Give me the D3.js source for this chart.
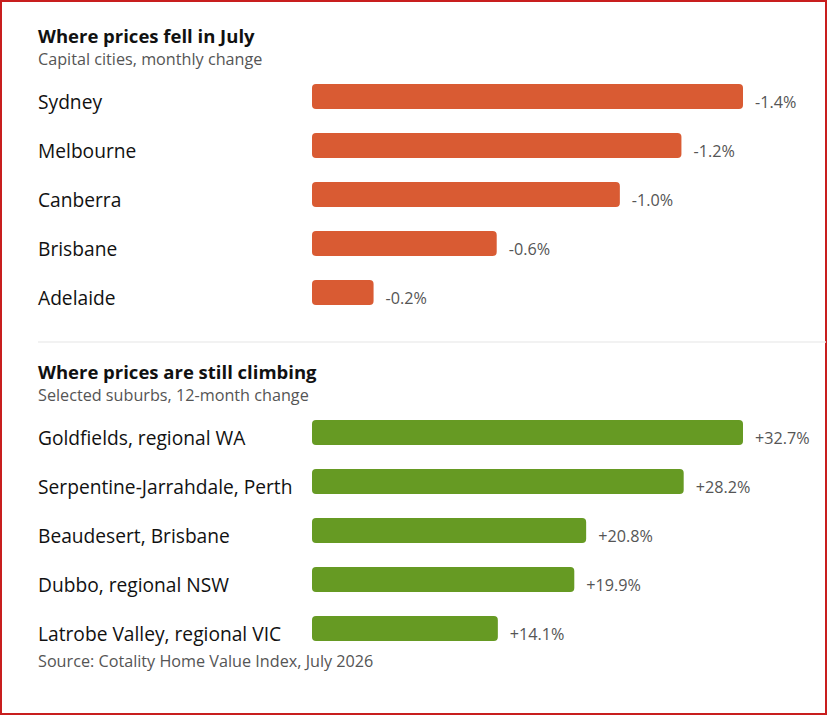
<!DOCTYPE html>
<html>
<head>
<meta charset="utf-8">
<script src="https://cdn.jsdelivr.net/npm/d3@7"></script>
<style>
  html, body { margin: 0; padding: 0; background: #fff; }
  svg { display: block; font-family: "Open Sans", "Noto Sans", sans-serif; }
</style>
</head>
<body>
<svg id="chart" width="828" height="716"></svg>
<script>
// ---- data ----
const fallTitle = "Where prices fell in July";
const fallSubtitle = "Capital cities, monthly change";
const fallCities = ["Sydney", "Melbourne", "Canberra", "Brisbane", "Adelaide"];
const fallValues = [-1.4, -1.2, -1.0, -0.6, -0.2];

const climbTitle = "Where prices are still climbing";
const climbSubtitle = "Selected suburbs, 12-month change";
const climbSuburbs = ["Goldfields, regional WA", "Serpentine-Jarrahdale, Perth", "Beaudesert, Brisbane", "Dubbo, regional NSW", "Latrobe Valley, regional VIC"];
const climbValues = [32.7, 28.2, 20.8, 19.9, 14.1];

const sourceText = "Source: Cotality Home Value Index, July 2026";

// ---- drawing ----
const svg = d3.select("#chart");
const W = 828, H = 716;

svg.append("rect").attr("x", 1).attr("y", 1).attr("width", W - 3).attr("height", H - 3)
  .attr("fill", "#fff").attr("stroke", "#c81e1e").attr("stroke-width", 2);

const labelX = 38, barX0 = 312, barX1 = 743;

function section(top, title, subtitle, cats, vals, color, fmt) {
  const g = svg.append("g");
  g.append("text").attr("x", labelX).attr("y", top)
    .attr("font-size", 18.5).attr("font-weight", 700).attr("fill", "#111").text(title);
  g.append("text").attr("x", labelX).attr("y", top + 22)
    .attr("font-size", 16.2).attr("fill", "#555").text(subtitle);

  const y = d3.scaleBand().domain(cats).range([top + 29, top + 29 + 49 * cats.length]).paddingInner(0.49).paddingOuter(0.245);
  const x = d3.scaleLinear().domain([0, d3.max(vals, v => Math.abs(v))]).range([barX0, barX1]);

  const rows = g.selectAll("g.row").data(cats.map((c, i) => ({ c, v: vals[i] })))
    .join("g").attr("class", "row");

  rows.append("text").attr("x", labelX).attr("y", d => y(d.c) + y.bandwidth())
    .attr("font-size", 19.2).attr("fill", "#111").text(d => d.c);

  rows.append("rect").attr("x", barX0).attr("y", d => y(d.c))
    .attr("width", d => x(Math.abs(d.v)) - barX0).attr("height", y.bandwidth())
    .attr("rx", 4).attr("fill", color);

  rows.append("text").attr("x", d => x(Math.abs(d.v)) + 12).attr("y", d => y(d.c) + y.bandwidth() / 2 + 11.5)
    .attr("font-size", 16.2).attr("fill", "#555").text(d => fmt(d.v));
}

section(43, fallTitle, fallSubtitle, fallCities, fallValues, "#d95b33", v => "-" + Math.abs(v).toFixed(1) + "%");

svg.append("line").attr("x1", 38).attr("x2", 826).attr("y1", 342).attr("y2", 342)
  .attr("stroke", "#eeeeee").attr("stroke-width", 1.5);

section(379, climbTitle, climbSubtitle, climbSuburbs, climbValues, "#669a23", v => "+" + v.toFixed(1) + "%");

svg.append("text").attr("x", labelX).attr("y", 667).attr("font-size", 16.2).attr("fill", "#555").text(sourceText);
</script>
</body>
</html>
